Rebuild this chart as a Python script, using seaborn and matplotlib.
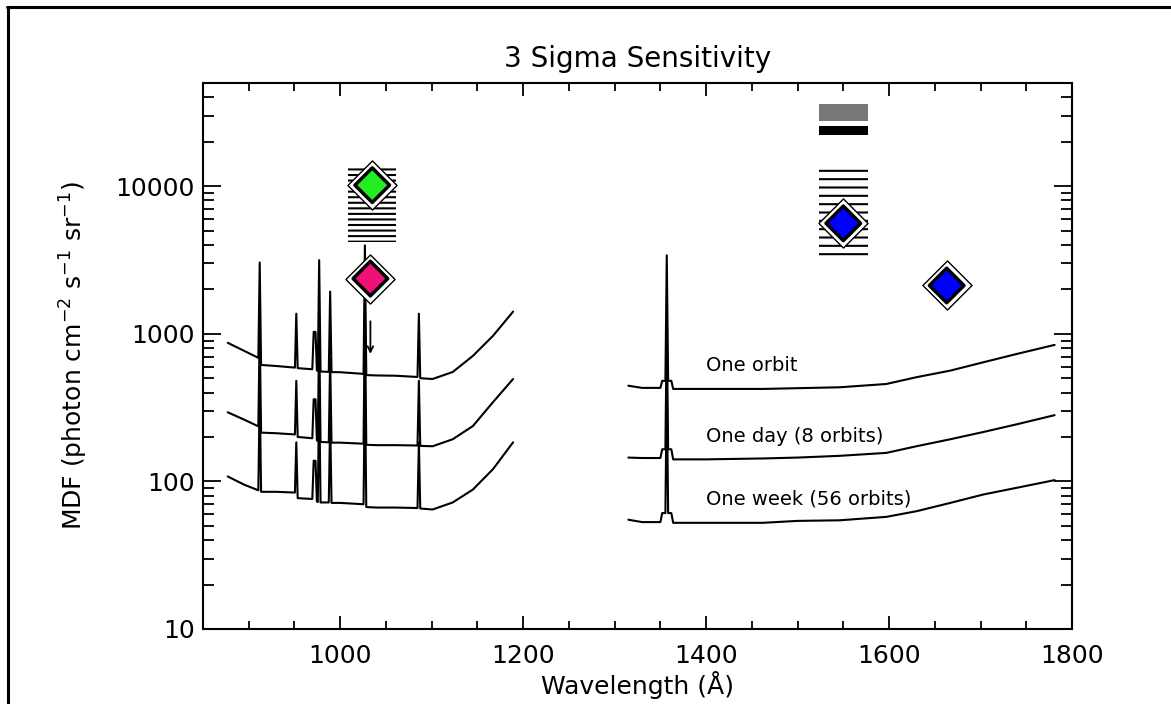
import matplotlib
matplotlib.use("Agg")
import matplotlib.pyplot as plt
from matplotlib.lines import Line2D
from matplotlib.ticker import MultipleLocator, LogLocator, NullFormatter
import pandas as pd
import seaborn as sns

# --- sensitivity curves (wavelength in A, MDF) ---
# short-wavelength channel
left_wl = [877, 895, 910.5, 912, 913.5, 930, 950.5, 952, 953.5, 969.5, 971, 973,
           974.5, 975.5, 977, 978.5, 987.5, 989, 990.5, 1000, 1025.5, 1027, 1028.5,
           1040, 1060, 1084.5, 1086, 1087.5, 1101, 1123, 1145, 1167, 1189]
orbit_left = [869, 766, 687, 3040, 615, 605, 590, 1368, 585, 575, 1030, 1030,
              565, 560, 3155, 555, 552, 1930, 550, 549, 535, 3975, 525,
              522, 520, 510, 1368, 500, 494, 551, 708, 968, 1413]
day_left = [294, 262, 236, 1070, 214, 212, 208, 480, 200, 196, 360, 360,
            190, 188, 1110, 185, 184, 680, 183, 183, 180, 1400, 177,
            176, 176, 175, 480, 174, 173, 193, 237, 344, 494]
week_left = [108, 95, 87, 410, 85, 85, 84, 184, 77, 76, 138, 138,
             73, 72.5, 424, 72, 72, 260, 71.5, 71.5, 70, 534, 67,
             66.5, 66.5, 66, 184, 65.5, 64.5, 72, 88, 121, 184]

# long-wavelength channel
right_wl = [1315, 1330, 1350, 1352, 1355.5, 1357, 1358.5, 1362, 1364, 1400,
            1462, 1500, 1546, 1597, 1630, 1667, 1703, 1740, 1781]
orbit_right = [445, 430, 430, 480, 480, 3400, 480, 480, 423, 423,
               423, 428, 434, 457, 508, 563, 641, 731, 841]
day_right = [145, 144, 144, 165, 165, 1190, 165, 165, 141, 141,
             143, 145, 149, 156, 173, 193, 216, 244, 281]
week_right = [55, 53, 53, 61, 61, 456, 61, 61, 52.4, 52.4,
              52.4, 54, 54.5, 57.5, 62.8, 71.5, 81.5, 90.6, 102]

curve_labels = ["One orbit", "One day (8 orbits)", "One week (56 orbits)"]
label_mdf = [608, 203, 76]

# source points (diamonds)
pt_wl = [1035, 1033, 1550, 1663]
pt_mdf = [10160, 2366, 5600, 2124]
pt_name = ["a", "b", "c", "d"]
pt_colors = {"a": "#22ee22", "b": "#f0107a", "c": "#0000ff", "d": "#0000ff"}

# hatched ranges and solid bars: wl low/high, mdf low/high
hatch_wl = [(1009, 1061), (1523, 1577)]
hatch_mdf = [(4210, 13240), (3330, 13240)]
bar_wl = [(1523, 1577), (1523, 1577)]
bar_mdf = [(27800, 36100), (22100, 25700)]
bar_colors = ["#777777", "#000000"]

sns.set_style("white")
plt.rcParams["font.family"] = ["DejaVu Sans"]
plt.rcParams["hatch.linewidth"] = 1.5
plt.rcParams["text.color"] = "black"
plt.rcParams["axes.labelcolor"] = "black"

rows = []
for name, wl, vals in [("orbit_l", left_wl, orbit_left), ("day_l", left_wl, day_left),
                       ("week_l", left_wl, week_left), ("orbit_r", right_wl, orbit_right),
                       ("day_r", right_wl, day_right), ("week_r", right_wl, week_right)]:
    for w, v in zip(wl, vals):
        rows.append({"trace": name, "wl": w, "mdf": v})
df = pd.DataFrame(rows)

fig = plt.figure(figsize=(11.71, 7.04), dpi=100)
ax = fig.add_axes([203 / 1171, 1 - 629 / 704, 869 / 1171, 546 / 704])
ax.set_yscale("log")

sns.lineplot(data=df, x="wl", y="mdf", units="trace", estimator=None, sort=False,
             color="black", linewidth=1.5, ax=ax, zorder=3)

# hatched boxes
for (x0, x1), (y0, y1), h in zip(hatch_wl, hatch_mdf, ["---", "--"]):
    ax.bar((x0 + x1) / 2, y1 - y0, bottom=y0, width=x1 - x0, facecolor="none",
           edgecolor="black", hatch=h, linewidth=0, zorder=2)
for (x0, x1), (y0, y1), c in zip(bar_wl, bar_mdf, bar_colors):
    ax.bar((x0 + x1) / 2, y1 - y0, bottom=y0, width=x1 - x0, color=c,
           linewidth=0, zorder=2)

# upper limit arrow
ax.annotate("", xy=(1033, 700), xytext=(1033, 1270),
            arrowprops=dict(arrowstyle="->", lw=1.3, color="black"), zorder=3)

# diamonds: outer ring then coloured marker
sns.scatterplot(x=pt_wl, y=pt_mdf, marker="D", s=625, color="white",
                edgecolor="black", linewidth=1, legend=False, ax=ax, zorder=4)
sns.scatterplot(x=pt_wl, y=pt_mdf, hue=pt_name, palette=pt_colors, marker="D", s=310,
                edgecolor="black", linewidth=2.5, legend=False, ax=ax, zorder=5)

for lab, y in zip(curve_labels, label_mdf):
    ax.text(1400, y, lab, fontsize=14, va="center", ha="left")

ax.set_xlim(850, 1800)
ax.set_ylim(10, 50000)
ax.set_xticks([1000, 1200, 1400, 1600, 1800])
ax.xaxis.set_minor_locator(MultipleLocator(50))
ax.set_yticks([10, 100, 1000, 10000], labels=["10", "100", "1000", "10000"])
ax.yaxis.set_minor_locator(LogLocator(base=10, subs=range(2, 10)))
ax.yaxis.set_minor_formatter(NullFormatter())

ax.tick_params(which="both", direction="in", top=True, right=True, bottom=True,
               left=True, width=1.3, labelsize=18, colors="black")
ax.tick_params(axis="x", which="major", length=9.5, pad=11)
ax.tick_params(axis="x", which="minor", length=6)
ax.tick_params(axis="y", which="major", length=13, pad=6)
ax.tick_params(axis="y", which="minor", length=8)
for sp in ax.spines.values():
    sp.set_linewidth(1.5)
    sp.set_color("black")

ax.set_title("3 Sigma Sensitivity", fontsize=20, pad=11.5)
ax.set_xlabel("Wavelength (Å)", fontsize=18, labelpad=2)
ax.set_ylabel("MDF (photon cm$^{-2}$ s$^{-1}$ sr$^{-1}$)", fontsize=18, labelpad=18)

# frame lines of the original picture
fig.add_artist(Line2D([7 / 1171, 1], [1 - 6.5 / 704, 1 - 6.5 / 704], color="black", lw=2.2))
fig.add_artist(Line2D([8 / 1171, 8 / 1171], [0, 1 - 6.5 / 704], color="black", lw=2.2))

fig.savefig("out.png", dpi=100)
